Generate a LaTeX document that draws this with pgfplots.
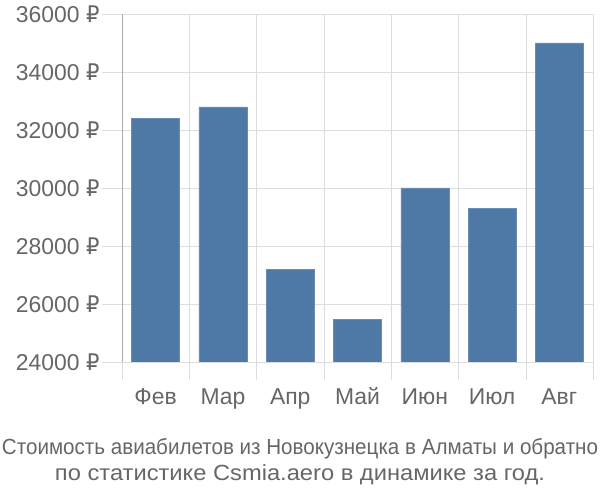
\documentclass[border=0pt]{standalone}
\usepackage{pgfplots}
\pgfplotsset{compat=1.18}
\usepackage{fontspec}
\setmainfont{Liberation Sans}
\newfontfamily\rubfont{DejaVu Sans}
\usepackage{graphicx}
\definecolor{barc}{RGB}{78,121,167}
\definecolor{txt}{RGB}{102,102,102}
\definecolor{gridc}{RGB}{221,221,221}
\definecolor{axc}{RGB}{170,170,170}
\newcommand{\rub}{{\rubfont\scalebox{0.92}[1]{₽}}}
\begin{document}
\begin{tikzpicture}[x=1bp,y=1bp]
\path[use as bounding box] (0,0) rectangle (600,500);
\begin{axis}[
  at={(122bp,138bp)}, anchor=south west, scale only axis,
  width=471bp, height=348bp,
  xmin=0.5, xmax=7.5, ymin=24000, ymax=36000,
  scaled y ticks=false,
  axis x line=bottom, axis y line=left,
  x axis line style={draw=gridc,-},
  y axis line style={draw=axc,-},
  xtick={1,...,7},
  xticklabels={Фев,Мар,Апр,Май,Июн,Июл,Авг},
  minor xtick={0.5,1.5,...,7.5},
  ytick={24000,26000,...,36000},
  yticklabels={24000 \rub,26000 \rub,28000 \rub,30000 \rub,32000 \rub,34000 \rub,36000 \rub},
  tick align=outside,
  major tick length=20bp,
  minor tick length=18bp,
  major x tick style={draw=none},
  minor x tick style={draw=gridc},
  major y tick style={draw=gridc},
  xminorgrids=true, ymajorgrids=true, xmajorgrids=false,
  minor grid style={draw=gridc},
  major grid style={draw=gridc},
  ticklabel style={font=\fontsize{23}{26}\selectfont, text=txt},
  yticklabel style={xshift=1bp},
  xticklabel style={text height=17bp, text depth=5bp, yshift=-2bp},
  ybar, bar width=48bp, bar shift=0pt,
  clip=true,
]
\addplot[fill=barc, draw=barc!85!white] coordinates {
  (1,32400) (2,32800) (3,27200) (4,25480) (5,30000) (6,29300) (7,35000)
};
\end{axis}
\node[text=txt, anchor=center] at (300,51) {\resizebox{596bp}{\height}{\fontsize{22}{24}\selectfont Стоимость авиабилетов из Новокузнецка в Алматы и обратно}};
\node[text=txt, anchor=center] at (300,25) {\resizebox{490bp}{\height}{\fontsize{22}{24}\selectfont по статистике Csmia.aero в динамике за год.}};
\end{tikzpicture}
\end{document}
